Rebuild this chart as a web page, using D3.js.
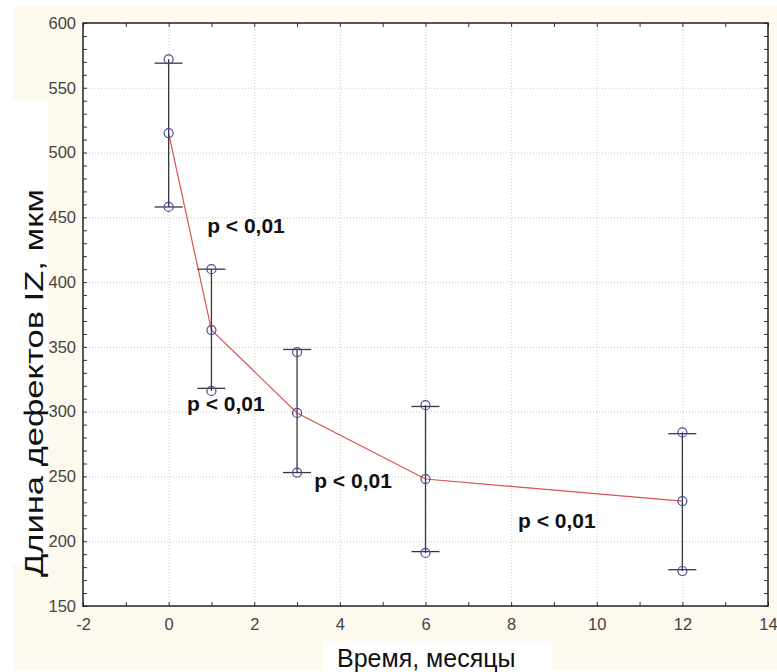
<!DOCTYPE html>
<html lang="ru">
	<head>
		<meta charset="utf-8">
		<title>Длина дефектов IZ</title>
		<script src="https://d3js.org/d3.v7.min.js"></script>
		<style type="text/css">
			body {
				margin: 0;
				background: white;
			}
			text {
				font-family: "Liberation Sans", Arial, sans-serif;
			}
			.tick text {
				fill: #444;
				font-size: 16.5px;
			}
			.grid line {
				stroke: #c8c8c8;
				stroke-dasharray: 1,2;
			}
		</style>
	</head>
	<body>
		<script type="text/javascript">
			//Data
			var months = [0, 1, 3, 6, 12];
			var meanVals = [515, 363, 299, 248, 231];
			var upperVals = [572, 410, 346, 305, 284];
			var lowerVals = [458, 316, 253, 191, 177];
			var upperCaps = [569, 410, 348, 304, 283];
			var lowerCaps = [458, 318, 253, 192, 178];
			var xTicks = [-2, 0, 2, 4, 6, 8, 10, 12, 14];
			var yTicks = [150, 200, 250, 300, 350, 400, 450, 500, 550, 600];
			var pLabelText = "p < 0,01";
			var pLabelX = [0.9, 0.43, 3.4, 8.16];
			var pLabelY = [438, 300.5, 241, 210];

			//Size variables
			var width = 777;
			var height = 672;
			var plotLeft = 83, plotRight = 768, plotTop = 23, plotBottom = 606;

			//Scales
			var xScale = d3.scaleLinear()
				.domain([-2, 14])
				.range([plotLeft, plotRight]);
			var yScale = d3.scaleLinear()
				.domain([150, 600])
				.range([plotBottom, plotTop]);
			//plain hyphen minus like the original
			var fmt = function(d) { return String(d); };

			var svg = d3.select("body").append("svg")
				.attr("width", width)
				.attr("height", height);

			//cream backdrop with the two white label boxes
			svg.append("rect")
				.attr("x", 13).attr("y", 6)
				.attr("width", width - 13).attr("height", height - 8)
				.attr("fill", "#fdf9ee");
			svg.append("rect")
				.attr("x", 0).attr("y", 100)
				.attr("width", 48).attr("height", 465)
				.attr("fill", "white");
			svg.append("rect")
				.attr("x", 323).attr("y", 641)
				.attr("width", 229).attr("height", 31)
				.attr("fill", "white");

			//plot area
			svg.append("rect")
				.attr("x", plotLeft).attr("y", plotTop)
				.attr("width", plotRight - plotLeft).attr("height", plotBottom - plotTop)
				.attr("fill", "white");

			//grid lines
			svg.append("g")
				.attr("class", "grid")
				.attr("transform", "translate(0," + plotBottom + ")")
				.call(d3.axisBottom(xScale).tickValues(xTicks.slice(1, -1)).tickSize(-(plotBottom - plotTop)).tickFormat(""))
				.select(".domain").remove();
			svg.append("g")
				.attr("class", "grid")
				.attr("transform", "translate(" + plotLeft + ",0)")
				.call(d3.axisLeft(yScale).tickValues(yTicks.slice(1, -1)).tickSize(-(plotRight - plotLeft)).tickFormat(""))
				.select(".domain").remove();

			//minor ticks, inward on all four sides
			var xMinor = d3.range(-2, 14.01, 1);
			var yMinor = d3.range(150, 600.01, 10);
			function minor(g) {
				g.select(".domain").remove();
				g.selectAll(".tick line").attr("stroke", "#333");
			}
			svg.append("g").attr("transform", "translate(0," + plotBottom + ")")
				.call(d3.axisBottom(xScale).tickValues(xMinor).tickSize(-4).tickFormat("")).call(minor);
			svg.append("g").attr("transform", "translate(0," + plotTop + ")")
				.call(d3.axisTop(xScale).tickValues(xMinor).tickSize(-4).tickFormat("")).call(minor);
			svg.append("g").attr("transform", "translate(" + plotLeft + ",0)")
				.call(d3.axisLeft(yScale).tickValues(yMinor).tickSize(-4).tickFormat("")).call(minor);
			svg.append("g").attr("transform", "translate(" + plotRight + ",0)")
				.call(d3.axisRight(yScale).tickValues(yMinor).tickSize(-4).tickFormat("")).call(minor);

			//tick labels
			svg.append("g")
				.attr("transform", "translate(0," + plotBottom + ")")
				.call(d3.axisBottom(xScale).tickValues(xTicks).tickFormat(fmt).tickSize(0).tickPadding(12))
				.select(".domain").remove();
			svg.append("g")
				.attr("transform", "translate(" + plotLeft + ",0)")
				.call(d3.axisLeft(yScale).tickValues(yTicks).tickFormat(fmt).tickSize(0).tickPadding(7))
				.select(".domain").remove();

			//frame
			svg.append("rect")
				.attr("x", plotLeft).attr("y", plotTop)
				.attr("width", plotRight - plotLeft).attr("height", plotBottom - plotTop)
				.attr("fill", "none")
				.attr("stroke", "#222")
				.attr("stroke-width", 1.5);

			//mean line
			var line = d3.line()
				.x(function(d, i) { return xScale(months[i]); })
				.y(function(d) { return yScale(d); });
			svg.append("path")
				.datum(meanVals)
				.attr("d", line)
				.attr("fill", "none")
				.attr("stroke", "#d9534f")
				.attr("stroke-width", 1.2);

			//whiskers and caps
			var bars = svg.append("g").attr("stroke", "#383838").attr("stroke-width", 1.3);
			bars.selectAll("line.whisker")
				.data(months)
				.enter()
				.append("line")
				.attr("class", "whisker")
				.attr("x1", function(d) { return xScale(d); })
				.attr("x2", function(d) { return xScale(d); })
				.attr("y1", function(d, i) { return yScale(Math.max(upperVals[i], upperCaps[i])); })
				.attr("y2", function(d, i) { return yScale(Math.min(lowerVals[i], lowerCaps[i])); });
			var caps = upperCaps.concat(lowerCaps);
			bars.selectAll("line.cap")
				.data(caps)
				.enter()
				.append("line")
				.attr("class", "cap")
				.attr("x1", function(d, i) { return xScale(months[i % months.length]) - 14; })
				.attr("x2", function(d, i) { return xScale(months[i % months.length]) + 14; })
				.attr("y1", function(d) { return yScale(d); })
				.attr("y2", function(d) { return yScale(d); });

			//circles
			var pts = [];
			months.forEach(function(m, i) {
				pts.push([m, upperVals[i]], [m, meanVals[i]], [m, lowerVals[i]]);
			});
			svg.selectAll("circle")
				.data(pts)
				.enter()
				.append("circle")
				.attr("cx", function(d) { return xScale(d[0]); })
				.attr("cy", function(d) { return yScale(d[1]); })
				.attr("r", 4.5)
				.attr("fill", "none")
				.attr("stroke", "#4a4aa0")
				.attr("stroke-width", 1.2);

			//p labels
			svg.selectAll("text.plab")
				.data(pLabelX)
				.enter()
				.append("text")
				.attr("class", "plab")
				.attr("x", function(d) { return xScale(d); })
				.attr("y", function(d, i) { return yScale(pLabelY[i]); })
				.attr("font-size", 21)
				.attr("font-weight", "bold")
				.attr("fill", "#111")
				.text(pLabelText);

			//axis titles
			svg.append("text")
				.attr("x", 337)
				.attr("y", 667)
				.attr("font-size", 25)
				.attr("fill", "#111")
				.text("Время, месяцы");
			svg.append("text")
				.attr("transform", "translate(43,383) rotate(-90)")
				.attr("text-anchor", "middle")
				.attr("font-size", 26)
				.attr("textLength", 388)
				.attr("lengthAdjust", "spacingAndGlyphs")
				.attr("fill", "#111")
				.text("Длина дефектов IZ, мкм");
		</script>
	</body>
</html>
